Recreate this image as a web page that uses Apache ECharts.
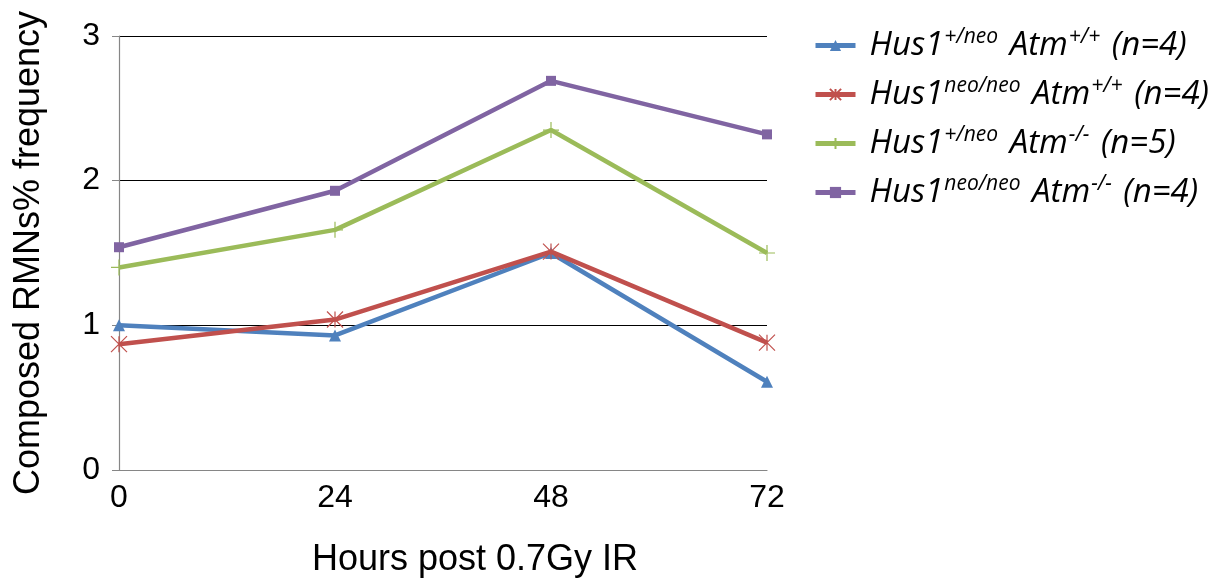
<!DOCTYPE html>
<html>
<head>
<meta charset="utf-8">
<script src="https://cdn.jsdelivr.net/npm/echarts@6/dist/echarts.min.js"></script>
<style>
  html, body { margin: 0; padding: 0; background: #fff; }
  #chart { width: 1225px; height: 588px; }
</style>
</head>
<body>
<div id="chart"></div>
<script>
// Hours after irradiation
const hours = [0, 24, 48, 72];

// Composed RMN % frequency per genotype
const hus1HetAtmWt = [1.00, 0.93, 1.50, 0.61];
const hus1NeoAtmWt = [0.87, 1.04, 1.51, 0.88];
const hus1HetAtmKo = [1.40, 1.66, 2.35, 1.50];
const hus1NeoAtmKo = [1.54, 1.93, 2.69, 2.32];

// Legend labels as rich-text pieces: [gene, superscript, gene, superscript, count]
const seriesNames = ['s1', 's2', 's3', 's4'];
const legendParts = {
  s1: ['Hus1', '+/neo', ' Atm', '+/+', ' (n=4)'],
  s2: ['Hus1', 'neo/neo', ' Atm', '+/+', ' (n=4)'],
  s3: ['Hus1', '+/neo', ' Atm', '-/-', ' (n=5)'],
  s4: ['Hus1', 'neo/neo', ' Atm', '-/-', ' (n=4)']
};

const colors = ['#4F81BD', '#C0504D', '#9BBB59', '#8064A2'];
const symbols = ['triangle', 'path://M0,0 L10,10 M10,0 L0,10 M5,0 L5,10', 'path://M5,0 L5,10 M0,5 L10,5', 'rect'];
const allValues = [hus1HetAtmWt, hus1NeoAtmWt, hus1HetAtmKo, hus1NeoAtmKo];

const chart = echarts.init(document.getElementById('chart'));

const series = allValues.map((vals, i) => {
  const hollow = i === 1 || i === 2;
  return {
    name: seriesNames[i],
    type: 'line',
    data: hours.map((h, k) => [h, vals[k]]),
    symbol: symbols[i],
    symbolSize: i === 0 ? 12 : (i === 3 ? 10 : 16),
    showSymbol: true,
    lineStyle: { color: colors[i], width: 4.5 },
    itemStyle: hollow
      ? { color: 'none', borderColor: colors[i], borderWidth: 1.2 }
      : { color: colors[i], borderWidth: 0 },
    emphasis: { disabled: true },
    animation: false,
    z: 3 + i
  };
});

chart.setOption({
  backgroundColor: '#ffffff',
  animation: false,
  grid: { left: 119, right: 458, top: 36, bottom: 118, containLabel: false },
  xAxis: {
    type: 'value',
    min: 0, max: 72, interval: 24,
    name: 'Hours post 0.7Gy IR',
    nameLocation: 'middle',
    nameGap: 72,
    nameTextStyle: { fontFamily: 'Liberation Sans', fontSize: 36, color: '#000', padding: [0, 0, 0, 64] },
    axisLine: { show: true, onZero: false, lineStyle: { color: '#868686', width: 1.2 } },
    axisTick: { show: false },
    splitLine: { show: false },
    axisLabel: { fontFamily: 'Liberation Sans', fontSize: 32, color: '#000', margin: 12 }
  },
  yAxis: {
    type: 'value',
    min: 0, max: 3, interval: 1,
    name: 'Composed RMNs% frequency',
    nameLocation: 'middle',
    nameGap: 72,
    nameRotate: 90,
    nameTextStyle: { fontFamily: 'Liberation Sans', fontSize: 36, color: '#000' },
    axisLine: { show: true, lineStyle: { color: '#868686', width: 1.2 } },
    axisTick: { show: true, length: 7, lineStyle: { color: '#868686' } },
    splitLine: { show: true, lineStyle: { color: '#000', width: 1 } },
    axisLabel: { fontFamily: 'Liberation Sans', fontSize: 32, color: '#000', margin: 19 }
  },
  legend: {
    orient: 'vertical',
    left: 808,
    top: 22,
    itemWidth: 40,
    itemHeight: 14,
    itemGap: 12,
    data: seriesNames,
    lineStyle: { width: 5 },
    formatter: (name) => {
      const p = legendParts[name];
      return '{m|' + p[0] + '}{s|' + p[1] + '}{m|' + p[2] + '}{s|' + p[3] + '}{m|' + p[4] + '}';
    },
    textStyle: {
      padding: [0, 0, 0, 9],
      rich: {
        m: { fontFamily: 'Open Sans', fontStyle: 'italic', fontSize: 33, color: '#000', lineHeight: 36 },
        s: { fontFamily: 'Open Sans', fontStyle: 'italic', fontSize: 21, color: '#000', lineHeight: 36, padding: [0, 3, 16, 1] }
      }
    }
  },
  series: series
});
</script>
</body>
</html>
